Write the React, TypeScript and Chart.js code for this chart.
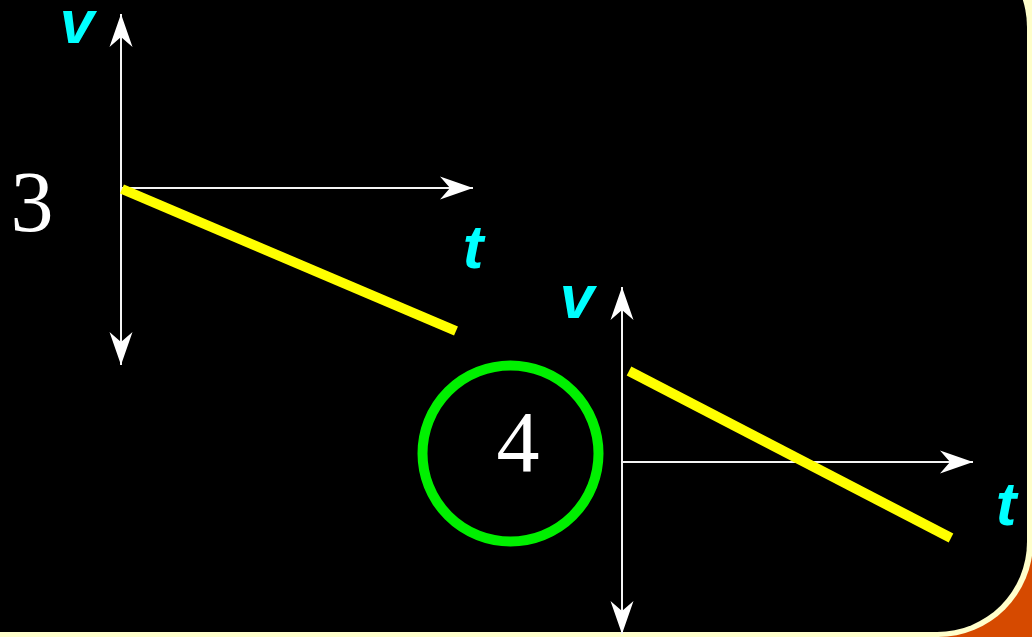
import React, { useEffect, useRef } from "react";
import { Chart, registerables } from "chart.js";

Chart.register(...registerables);

// Scene values (x across, y down)
const graph1VelocityX = [122, 456];
const graph1VelocityY = [189, 331];
const graph2VelocityX = [629, 951];
const graph2VelocityY = [371, 538];

const graph1VAxisX = [121, 121];
const graph1VAxisY = [14, 365];
const graph1TAxisX = [121, 473];
const graph1TAxisY = [188, 188];

const graph2VAxisX = [622, 622];
const graph2VAxisY = [287, 634];
const graph2TAxisX = [622, 973];
const graph2TAxisY = [462, 462];

const markerX = [510.5];
const markerY = [453.5];

const axisNames = ["v", "t"];
const panelNames = ["3", "4"];

const W = 1032;
const H = 637;

const pts = (xs: number[], ys: number[]) => xs.map((x, i) => ({ x, y: ys[i] }));

export default function App() {
  const ref = useRef<HTMLCanvasElement | null>(null);

  useEffect(() => {
    document.body.style.margin = "0";
    const canvas = ref.current;
    if (!canvas) return;

    const bgPlugin = {
      id: "bg",
      beforeDraw(chart: any) {
        const ctx = chart.ctx;
        ctx.save();
        ctx.fillStyle = "#d64a00";
        ctx.fillRect(0, 0, W, H);
        ctx.fillStyle = "#ffffcc";
        ctx.beginPath();
        ctx.roundRect(-10, -10, 1043, 647, [0, 0, 95, 0]);
        ctx.fill();
        ctx.fillStyle = "#000000";
        ctx.beginPath();
        ctx.roundRect(-10, -63, 1037, 695, [0, 90, 90, 0]);
        ctx.fill();
        ctx.restore();
      },
    };

    const arrowPlugin = {
      id: "arrows",
      afterDatasetsDraw(chart: any) {
        const ctx = chart.ctx;
        const xs = chart.scales.x;
        const ys = chart.scales.y;
        const head = (x0: number, y0: number, x1: number, y1: number) => {
          const px0 = xs.getPixelForValue(x0);
          const py0 = ys.getPixelForValue(y0);
          const px1 = xs.getPixelForValue(x1);
          const py1 = ys.getPixelForValue(y1);
          const a = Math.atan2(py1 - py0, px1 - px0);
          ctx.save();
          ctx.translate(px1, py1);
          ctx.rotate(a);
          ctx.fillStyle = "#ffffff";
          ctx.beginPath();
          ctx.moveTo(0, 0);
          ctx.lineTo(-33, -11.5);
          ctx.lineTo(-23, 0);
          ctx.lineTo(-33, 11.5);
          ctx.closePath();
          ctx.fill();
          ctx.restore();
        };
        const both = (X: number[], Y: number[]) => {
          head(X[0], Y[0], X[1], Y[1]);
          head(X[1], Y[1], X[0], Y[0]);
        };
        both(graph1VAxisX, graph1VAxisY);
        head(graph1TAxisX[0], graph1TAxisY[0], graph1TAxisX[1], graph1TAxisY[1]);
        both(graph2VAxisX, graph2VAxisY);
        head(graph2TAxisX[0], graph2TAxisY[0], graph2TAxisX[1], graph2TAxisY[1]);
      },
      afterDraw(chart: any) {
        const ctx = chart.ctx;
        const xs = chart.scales.x;
        const ys = chart.scales.y;
        const txt = (s: string, x: number, y: number, font: string, color: string) => {
          ctx.save();
          ctx.font = font;
          ctx.fillStyle = color;
          ctx.textAlign = "center";
          ctx.textBaseline = "alphabetic";
          ctx.fillText(s, xs.getPixelForValue(x), ys.getPixelForValue(y));
          ctx.restore();
        };
        const sans = 'italic bold 62px "Liberation Sans", Arial, sans-serif';
        const serif = '86px "Liberation Serif", "Times New Roman", serif';
        txt(axisNames[0], 77, 43, sans, "#00ffff");
        txt(axisNames[1], 473, 268, sans, "#00ffff");
        txt(axisNames[0], 577, 318, sans, "#00ffff");
        txt(axisNames[1], 1006, 525, sans, "#00ffff");
        txt(panelNames[0], 32, 231, serif, "#ffffff");
        txt(panelNames[1], 518, 471, serif, "#ffffff");
      },
    };

    const axisStyle = {
      type: "line" as const,
      borderColor: "#f4f4f4",
      borderWidth: 2,
      pointRadius: 0,
      showLine: true,
      clip: false as any,
      order: 2,
    };
    const velStyle = {
      type: "line" as const,
      borderColor: "#ffff00",
      borderWidth: 10,
      borderCapStyle: "butt" as const,
      pointRadius: 0,
      showLine: true,
      clip: false as any,
      order: 1,
    };

    const chart = new Chart(canvas, {
      type: "scatter",
      data: {
        datasets: [
          { ...velStyle, data: pts(graph1VelocityX, graph1VelocityY) },
          { ...velStyle, data: pts(graph2VelocityX, graph2VelocityY) },
          { ...axisStyle, data: pts(graph1VAxisX, graph1VAxisY) },
          { ...axisStyle, data: pts(graph1TAxisX, graph1TAxisY) },
          { ...axisStyle, data: pts(graph2VAxisX, graph2VAxisY) },
          { ...axisStyle, data: pts(graph2TAxisX, graph2TAxisY) },
          {
            type: "scatter" as const,
            data: pts(markerX, markerY),
            pointRadius: 88,
            pointHoverRadius: 88,
            borderWidth: 10,
            borderColor: "#00f000",
            backgroundColor: "rgba(0,0,0,0)",
            pointStyle: "circle",
            clip: false as any,
            order: 3,
          } as any,
        ],
      },
      options: {
        animation: false,
        responsive: false,
        maintainAspectRatio: false,
        events: [],
        layout: { padding: 0, autoPadding: false },
        plugins: { legend: { display: false }, tooltip: { enabled: false } },
        scales: {
          x: { type: "linear", min: 0, max: W, display: false },
          y: { type: "linear", min: 0, max: H, reverse: true, display: false },
        },
      },
      plugins: [bgPlugin, arrowPlugin],
    } as any);

    return () => chart.destroy();
  }, []);

  return (
    <div style={{ position: "absolute", left: 0, top: 0, width: W, height: H }}>
      <canvas ref={ref} width={W} height={H} style={{ display: "block" }} />
    </div>
  );
}
